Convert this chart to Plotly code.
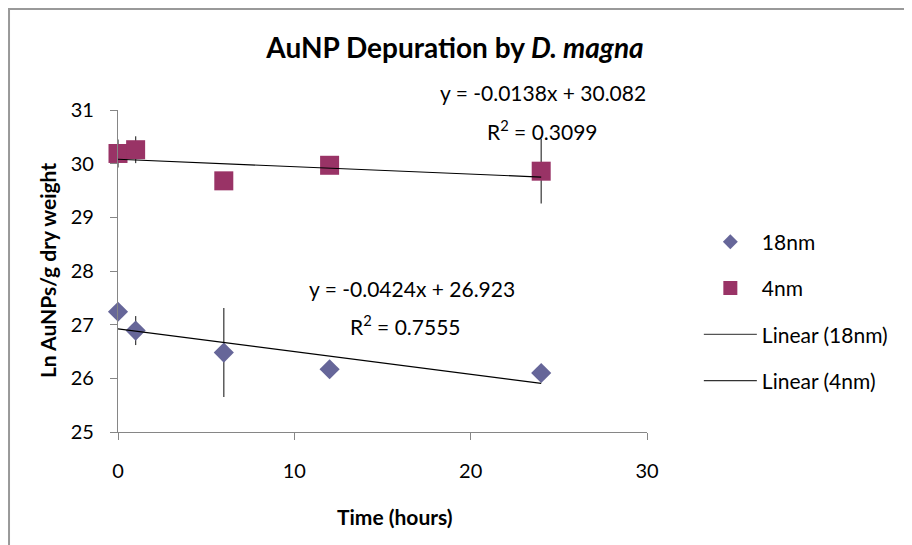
import plotly.graph_objects as go

# Data
time_18 = [0, 1, 6, 12, 24]
ln_18 = [27.24, 26.89, 26.48, 26.17, 26.10]
err_18 = [0.0, 0.27, 0.83, 0.0, 0.0]

time_4 = [0, 1, 6, 12, 24]
ln_4 = [30.19, 30.26, 29.68, 29.97, 29.86]
err_4 = [0.26, 0.25, 0.0, 0.05, 0.6]

fit_18 = (-0.0424, 26.923)
fit_4 = (-0.0138, 30.082)
fit_x = [0, 24]

FONT = "Lato, Open Sans, sans-serif"
C18 = "#666699"
C4 = "#993366"

fig = go.Figure()
fig.add_trace(go.Scatter(
    x=time_18, y=ln_18, mode="markers", name="18nm", showlegend=False, cliponaxis=False,
    marker=dict(symbol="diamond", size=15.5, color=C18),
    error_y=dict(type="data", array=err_18, visible=True, color="#444444", thickness=1.3, width=0),
))
fig.add_trace(go.Scatter(
    x=time_4, y=ln_4, mode="markers", name="4nm", showlegend=False, cliponaxis=False,
    marker=dict(symbol="square", size=19, color=C4),
    error_y=dict(type="data", array=err_4, visible=True, color="#444444", thickness=1.3, width=0),
))
fig.add_trace(go.Scatter(
    x=fit_x, y=[fit_18[0] * v + fit_18[1] for v in fit_x], mode="lines",
    name="Linear (18nm)", showlegend=False, line=dict(color="#000000", width=1.2),
))
fig.add_trace(go.Scatter(
    x=fit_x, y=[fit_4[0] * v + fit_4[1] for v in fit_x], mode="lines",
    name="Linear (4nm)", showlegend=False, line=dict(color="#000000", width=1.2),
))

# legend entries
fig.add_trace(go.Scatter(x=[None], y=[None], mode="markers", name="18nm", legendgroup="a",
                         marker=dict(symbol="diamond", size=11.5, color=C18)))
fig.add_trace(go.Scatter(x=[None], y=[None], mode="markers", name="4nm", legendgroup="b",
                         marker=dict(symbol="square", size=14, color=C4)))
fig.add_trace(go.Scatter(x=[None], y=[None], mode="lines", name="Linear (18nm)", legendgroup="c",
                         line=dict(color="#555555", width=1.2)))
fig.add_trace(go.Scatter(x=[None], y=[None], mode="lines", name="Linear (4nm)", legendgroup="d",
                         line=dict(color="#333333", width=1.2)))

ann_font = dict(family=FONT, size=21, color="#000000")
fig.add_annotation(x=24.1, xref="x", y=1.053, yref="paper", yanchor="middle",
                   text="y = -0.0138x + 30.082", showarrow=False, font=ann_font)
fig.add_annotation(x=24.1, y=30.62, text="R<sup>2</sup> = 0.3099", showarrow=False, font=ann_font)
fig.add_annotation(x=16.7, y=27.68, text="y = -0.0424x + 26.923", showarrow=False, font=ann_font)
fig.add_annotation(x=16.3, y=27.0, text="R<sup>2</sup> = 0.7555", showarrow=False, font=ann_font)

# axis titles
fig.add_annotation(xref="paper", yref="paper", x=0.5236, y=-0.261, xanchor="center", yanchor="middle",
                   text="<b>Time (hours)</b>", showarrow=False,
                   font=dict(family=FONT, size=21, color="#000000"))
fig.add_annotation(xref="paper", yref="paper", x=-0.134, y=0.5, xanchor="center", yanchor="middle",
                   textangle=-90, text="<b>Ln AuNPs/g dry weight</b>", showarrow=False,
                   font=dict(family=FONT, size=21, color="#000000"))

# outer border
fig.add_shape(type="rect", xref="paper", yref="paper", x0=-0.206, y0=-0.6, x1=1.8, y1=1.3137,
              line=dict(color="#999999", width=2), layer="below")

fig.update_layout(
    width=904, height=537,
    margin=dict(l=110, r=265, t=102, b=113),
    paper_bgcolor="white", plot_bgcolor="white",
    font=dict(family=FONT, size=20, color="#000000"),
    title=dict(text="<b>AuNP Depuration by <i>D. magna</i></b>", x=447 / 904, xref="container",
               xanchor="center", y=1 - 40 / 537, yanchor="middle", font=dict(family=FONT, size=28)),
    xaxis=dict(range=[0, 30], dtick=10, tick0=0, showgrid=False, zeroline=False,
               showline=True, linecolor="#868686", linewidth=1.3,
               ticks="outside", ticklen=7, tickcolor="#868686", ticklabelstandoff=14,
               tickfont=dict(family=FONT, size=20)),
    yaxis=dict(range=[25, 31], dtick=1, tick0=25, showgrid=False, zeroline=False,
               showline=True, linecolor="#868686", linewidth=1.3,
               ticks="outside", ticklen=7, tickcolor="#868686", ticklabelstandoff=12,
               tickfont=dict(family=FONT, size=20)),
    showlegend=True,
    legend=dict(x=1.098, y=0.6535, xanchor="left", yanchor="top",
                font=dict(family=FONT, size=21), itemwidth=53,
                tracegroupgap=16, bgcolor="rgba(0,0,0,0)"),
)

fig.write_html("out.html")
